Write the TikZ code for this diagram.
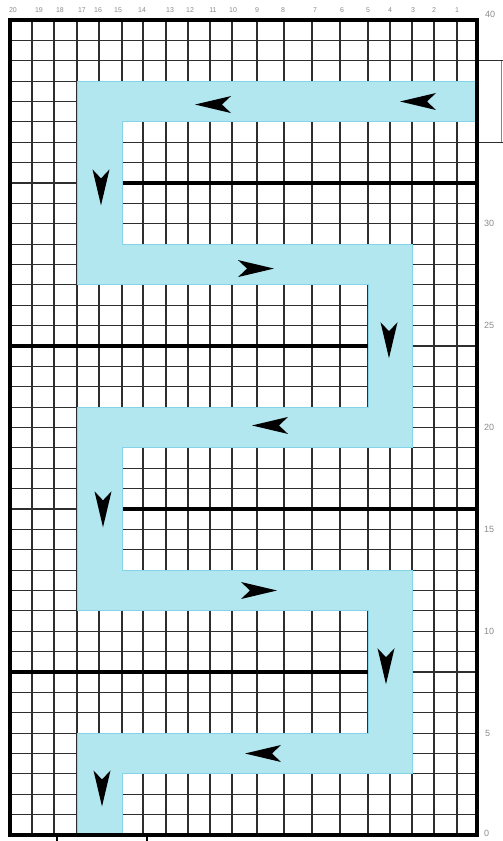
\documentclass[tikz,border=0pt]{standalone}
\usepackage{fontspec}
\setsansfont{Liberation Sans}
\definecolor{bandblue}{RGB}{178,231,240}
\definecolor{bandedge}{RGB}{130,212,230}
\definecolor{marker}{RGB}{220,90,130}
\begin{document}
\begin{tikzpicture}[x=1pt,y=20.375pt,
  gridline/.style={line width=1.2pt, draw=black!82},
  heavyline/.style={line width=3.2pt, draw=black},
  framebox/.style={line width=4.5pt, draw=black},
  band/.style={fill=bandblue, draw=bandedge, line width=0.8pt},
  toplabel/.style={font=\sffamily\fontsize{7}{7}\selectfont, text=black!45, inner sep=0pt},
  sidelabel/.style={font=\sffamily\fontsize{9}{9}\selectfont, text=black!45, inner sep=0pt, anchor=west},
  tick/.style={line width=1.3pt, draw=black},
  dart/.pic={\fill[black] (0pt,0pt) -- (-36pt,8.5pt) -- (-27pt,0pt) -- (-36pt,-8.5pt) -- cycle;}
]
\useasboundingbox (0pt,-6pt) rectangle (503pt,835pt);
\fill[white] (0pt,-6pt) rectangle (503pt,835pt);
% grid
\foreach \c in {32,54,77,99,122,143,166,188,210,232,257,284,312,340,368,390,412,434,457}
  \draw[gridline] (\c,0) -- (\c,40);
\foreach \k in {1,...,39}
  \draw[gridline] (10,\k) -- (477,\k);
% marks outside at the top right
\draw[gridline] (477,38) -- (503,38);
\draw[gridline] (477,34) -- (503,34);
\draw[marker, line width=0.9pt] (501,34) -- (501,38);
% heavy lines
\draw[heavyline] (122,32) -- (477,32);
\draw[heavyline] (10,24) -- (368,24);
\draw[heavyline] (122,16) -- (477,16);
\draw[heavyline] (10,8) -- (368,8);
% band
\path[band] (477,37) -- (77,37) -- (77,27) -- (368,27) -- (368,21) -- (77,21)
  -- (77,11) -- (368,11) -- (368,5) -- (77,5) -- (77,0) -- (122,0) -- (122,3)
  -- (412,3) -- (412,13) -- (122,13) -- (122,19) -- (412,19) -- (412,29)
  -- (122,29) -- (122,35) -- (477,35) -- cycle;
% frame
\draw[framebox] (10,0) rectangle (477,40);
% bottom ticks
\coordinate (b1) at (57,0);
\coordinate (b2) at (147,0);
\draw[tick] (b1) -- ++(0pt,-6pt);
\draw[tick] (b2) -- ++(0pt,-6pt);
% arrows
\pic[rotate=180] (a1) at (400,36) {dart};
\pic[rotate=180] (a2) at (195,35.85) {dart};
\pic[rotate=-90] (a3) at (101,30.9) {dart};
\pic (a4) at (274,27.8) {dart};
\pic[rotate=-90] (a5) at (389,23.4) {dart};
\pic[rotate=180] (a6) at (252,20.1) {dart};
\pic[rotate=-90] (a7) at (103,15.1) {dart};
\pic (a8) at (277,12) {dart};
\pic[rotate=-90] (a9) at (386,7.4) {dart};
\pic[rotate=180] (a10) at (245,4) {dart};
\pic[rotate=-90] (a11) at (102,1.4) {dart};
% column labels
\foreach \n/\x in {20/13,19/39,18/60,17/82,16/98,15/118,14/142,13/170,12/190,11/213,10/233,9/257,8/283,7/315,6/342,5/368,4/390,3/413,2/434,1/457}
  \node[toplabel] (t\n) at (\x,40.5) {\n};
% row labels
\node[sidelabel] (r40) at (485,40.25) {40};
\foreach \k in {30,25,20,15,10}
  \node[sidelabel] (r\k) at (484,\k) {\k};
\node[sidelabel] (r5) at (485,5) {5};
\node[sidelabel] (r0) at (484,0.1) {0};
\end{tikzpicture}
\end{document}
